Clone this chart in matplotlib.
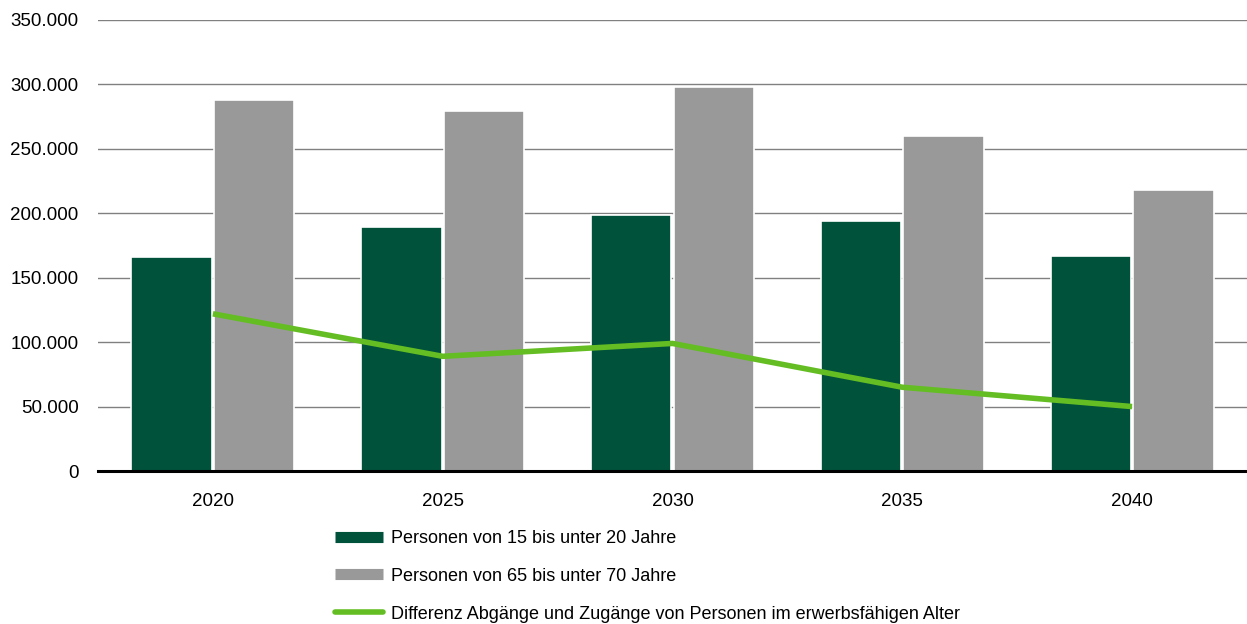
import matplotlib
matplotlib.use("Agg")
import matplotlib.pyplot as plt
from matplotlib.lines import Line2D
from matplotlib.ticker import FuncFormatter
import numpy as np

years = ["2020", "2025", "2030", "2035", "2040"]
age_15_20 = [166000, 189000, 199000, 194000, 167000]
age_65_70 = [288000, 279000, 298000, 260000, 218000]
difference = [122000, 89000, 99000, 65000, 50000]

labels = ["Personen von 15 bis unter 20 Jahre",
          "Personen von 65 bis unter 70 Jahre",
          "Differenz Abgänge und Zugänge von Personen im erwerbsfähigen Alter"]

c_dark = "#00523A"
c_gray = "#999999"
c_light = "#64BE23"

plt.rcParams['font.family'] = ['Liberation Sans', 'DejaVu Sans']

fig = plt.figure(figsize=(12.47, 6.24), dpi=100)
ax = fig.add_axes([98/1247, 1 - 471/624, 1 - 98/1247, (471 - 20)/624])

x = np.arange(len(years))
w = 0.35
off = 0.18
ax.bar(x - off, age_15_20, width=w, color=c_dark, edgecolor="white", linewidth=1.2, zorder=2)
ax.bar(x + off, age_65_70, width=w, color=c_gray, edgecolor="white", linewidth=1.2, zorder=2)
ax.plot(x, difference, color=c_light, lw=4.0, solid_capstyle="butt", zorder=3)

ax.set_xlim(-0.5, 4.5)
ax.set_ylim(0, 350000)
ax.set_yticks(np.arange(0, 350001, 50000))
ax.yaxis.set_major_formatter(FuncFormatter(lambda v, p: f"{int(v):,}".replace(",", ".")))
ax.set_xticks(x)
ax.set_xticklabels(years)
ax.grid(axis="y", color="#808080", linewidth=1.0, zorder=0)
ax.set_axisbelow(True)
for s in ["top", "right", "left"]:
    ax.spines[s].set_visible(False)
ax.spines["bottom"].set_linewidth(2.2)
ax.spines["bottom"].set_color("black")
ax.spines["bottom"].set_zorder(4)
ax.tick_params(axis="both", length=0, labelsize=13.5, colors="black")
ax.tick_params(axis="y", pad=14)
ax.tick_params(axis="x", pad=16)

handles = [Line2D([0], [0], color=c_dark, lw=8, solid_capstyle="butt"),
           Line2D([0], [0], color=c_gray, lw=8, solid_capstyle="butt"),
           Line2D([0], [0], color=c_light, lw=4, solid_capstyle="round")]
fig.legend(handles, labels, loc="upper left", bbox_to_anchor=(335/1247, 1 - 530/624),
           frameon=False, borderpad=0, borderaxespad=0, handlelength=2.65,
           handletextpad=0.45, labelspacing=1.15,
           prop={"family": ["Liberation Sans", "DejaVu Sans"], "size": 13})

fig.savefig("out.png", dpi=100)
